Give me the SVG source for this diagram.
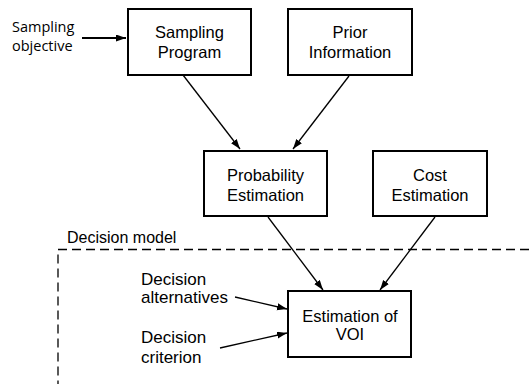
<svg xmlns="http://www.w3.org/2000/svg" width="529" height="384" viewBox="0 0 529 384">
<style>
.box{fill:#fff;stroke:#000;stroke-width:2}
.t{font-family:"Liberation Sans",Arial,sans-serif;font-size:16.5px;fill:#000;text-anchor:middle}
.l{font-family:"Liberation Sans",Arial,sans-serif;font-size:17px;fill:#000}
.m{font-family:"Liberation Sans",Arial,sans-serif;font-size:16px;fill:#000}
.o{font-family:"Open Sans","Noto Sans",sans-serif;font-size:14.5px;fill:#000}
.c{stroke:#000;stroke-width:1.3;fill:none;marker-end:url(#ah)}
.d{stroke:#000;stroke-width:1.3;fill:none;stroke-dasharray:9 5}
</style>
<defs>
<marker id="ah" markerUnits="userSpaceOnUse" markerWidth="11" markerHeight="8" refX="10" refY="3.5" orient="auto">
<path d="M0,0 L10,3.5 L0,7 z" fill="#000"/>
</marker>
</defs>
<g id="decision-model">
<path class="d" d="M529,249.5 H58 V384"/>
<text class="m" x="67" y="243">Decision model</text>
</g>
<g id="connectors">
<line class="c" x1="82" y1="38" x2="126" y2="38" style="stroke-width:1.8"/>
<line class="c" x1="183" y1="75" x2="240" y2="149"/>
<line class="c" x1="349" y1="76" x2="293" y2="149"/>
<line class="c" x1="268" y1="217" x2="323" y2="290"/>
<line class="c" x1="435" y1="217" x2="380" y2="290"/>
<line class="c" x1="235" y1="297" x2="287" y2="309"/>
<line class="c" x1="220" y1="348" x2="287" y2="333"/>
</g>
<g id="sampling-objective">
<text class="o" x="12" y="32">Sampling</text>
<text class="o" x="12" y="51">objective</text>
</g>
<g id="sampling-program">
<rect class="box" x="128" y="9" width="123" height="66"/>
<text class="t" x="189.5" y="38">Sampling</text>
<text class="t" x="189.5" y="58">Program</text>
</g>
<g id="prior-information">
<rect class="box" x="288" y="9" width="124" height="66"/>
<text class="t" x="350" y="38">Prior</text>
<text class="t" x="350" y="58">Information</text>
</g>
<g id="probability-estimation">
<rect class="box" x="204" y="151" width="123" height="65"/>
<text class="t" x="265.5" y="181">Probability</text>
<text class="t" x="265.5" y="201">Estimation</text>
</g>
<g id="cost-estimation">
<rect class="box" x="373" y="151" width="114" height="65"/>
<text class="t" x="430" y="181">Cost</text>
<text class="t" x="430" y="201">Estimation</text>
</g>
<g id="decision-alternatives">
<text class="l" x="141" y="285">Decision</text>
<text class="l" x="141" y="303">alternatives</text>
</g>
<g id="decision-criterion">
<text class="l" x="141" y="343">Decision</text>
<text class="l" x="141" y="363">criterion</text>
</g>
<g id="estimation-voi">
<rect class="box" x="288" y="291" width="123" height="66"/>
<text class="t" x="350" y="322">Estimation of</text>
<text class="t" x="350" y="340">VOI</text>
</g>
</svg>
